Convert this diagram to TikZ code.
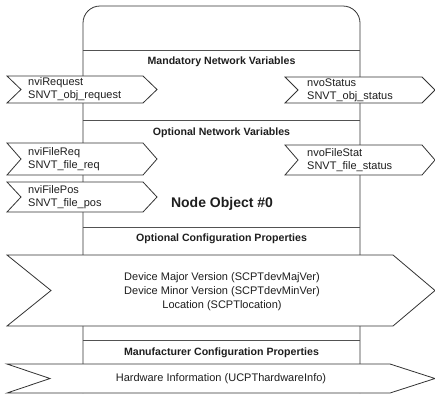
\documentclass[tikz,border=0pt]{standalone}
\usepackage{fontspec}
\setmainfont{Liberation Sans}
\definecolor{linec}{HTML}{333333}
\definecolor{textc}{HTML}{1E1E1E}
\tikzset{
  shp/.style={draw=linec, line width=0.8pt, fill=white, line join=miter},
  boxline/.style={draw=linec, line width=0.8pt},
  sepline/.style={draw=linec!85, line width=0.8pt},
  head/.style={font=\fontsize{10.6}{12}\selectfont\bfseries, text=textc, inner sep=0pt},
  body/.style={font=\fontsize{11}{12.8}\selectfont, text=textc, inner sep=0pt, align=left},
  cbody/.style={font=\fontsize{11}{14}\selectfont, text=textc, inner sep=0pt, align=center},
  title/.style={font=\fontsize{14}{16}\selectfont\bfseries, text=textc, inner sep=0pt}
}
% left x, notch x, right x, tip x, top y, bottom y
\newcommand\mychev[6]{%
  \draw[shp] (#1,#5) -- (#3,#5) -- (#4,{(#5+#6)/2}) -- (#3,#6) -- (#1,#6) -- (#2,{(#5+#6)/2}) -- cycle;}
\begin{document}
\begin{tikzpicture}[x=1pt,y=-1pt]
\useasboundingbox (0,0) rectangle (435,394);
% main object box
\draw[boxline, rounded corners=17pt] (83,393) -- (83,6) -- (360,6) -- (360,393);
\draw[sepline] (83,50) -- (360,50);
\draw[sepline] (83,120) -- (360,120);
\draw[sepline] (83,227) -- (360,227);
\draw[sepline] (83,340) -- (360,340);
% headings
\node[head] (mnv) at (221.5,62) {Mandatory Network Variables};
\node[head] (onv) at (221.5,133) {Optional Network Variables};
\node[head] (ocp) at (221.5,239) {Optional Configuration Properties};
\node[head] (mcp) at (221.5,353) {Manufacturer Configuration Properties};
\node[title] (nobj) at (222,204) {Node Object \#0};
% network variable arrows
\mychev{7}{21}{143}{157}{76}{103}
\node[body, anchor=west] (nvireq) at (28,89.5) {nviRequest\\SNVT\_obj\_request};
\mychev{285}{298}{422}{435}{77}{103}
\node[body, anchor=west] (nvostat) at (307,90) {nvoStatus\\SNVT\_obj\_status};
\mychev{7}{21}{143}{157}{143}{175}
\node[body, anchor=west] (nvifreq) at (28,159.5) {nviFileReq\\SNVT\_file\_req};
\mychev{285}{298}{422}{435}{145}{175}
\node[body, anchor=west] (nvofstat) at (307,160.5) {nvoFileStat\\SNVT\_file\_status};
\mychev{7}{21}{143}{157}{182}{212}
\node[body, anchor=west] (nvifpos) at (28,197.5) {nviFilePos\\SNVT\_file\_pos};
% configuration property arrows
\mychev{7}{51}{393}{435}{255}{326}
\node[cbody] (cfg) at (222,292) {Device Major Version (SCPTdevMajVer)\\Device Minor Version (SCPTdevMinVer)\\Location (SCPTlocation)};
\mychev{7}{50}{390}{435}{364}{393}
\node[cbody] (hw) at (221,379) {Hardware Information (UCPThardwareInfo)};
\end{tikzpicture}
\end{document}
